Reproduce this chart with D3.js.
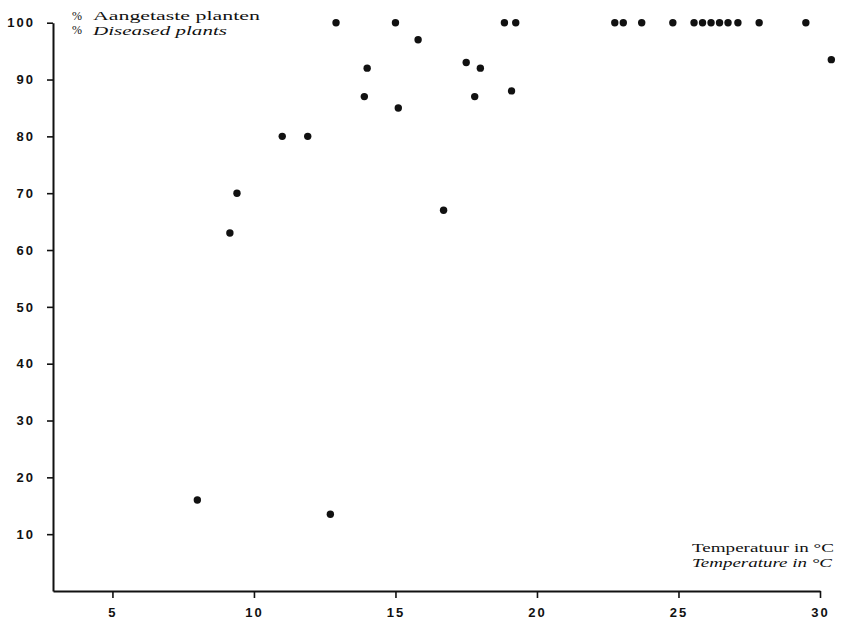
<!DOCTYPE html>
<html>
<head>
<meta charset="utf-8">
<style>
  body { margin: 0; background: #fff; }
  svg { display: block; }
  .tick text { font-family: "Liberation Sans", sans-serif; font-weight: bold; font-size: 13px; letter-spacing: 2px; fill: #111; }
  .lbl { font-family: "Liberation Serif", serif; font-size: 13.5px; fill: #111; }
</style>
</head>
<body>
<svg width="846" height="626"></svg>
<script src="https://d3js.org/d3.v7.min.js"></script>
<script>
// temperature (°C) and % diseased plants
var temps = [8.0, 9.15, 9.4, 11.0, 11.9, 12.7, 12.9, 13.9, 14.0, 15.0, 15.1, 15.8, 16.7,
             17.5, 17.8, 18.0, 18.85, 19.1, 19.25, 22.75, 23.05, 23.7, 24.8, 25.55, 25.85,
             26.15, 26.45, 26.75, 27.1, 27.85, 29.5, 30.4];
var diseased = [16, 63, 70, 80, 80, 13.5, 100, 87, 92, 100, 85, 97, 67,
                93, 87, 92, 100, 88, 100, 100, 100, 100, 100, 100, 100,
                100, 100, 100, 100, 100, 100, 93.5];
var xTicks = [5, 10, 15, 20, 25, 30];
var yTicks = [10, 20, 30, 40, 50, 60, 70, 80, 90, 100];

var svg = d3.select("svg");

var x = d3.scaleLinear().domain([2.9, 30]).range([53, 820]);
var y = d3.scaleLinear().domain([0, 100]).range([591, 22.7]);

// x axis
var gx = svg.append("g")
    .attr("transform", "translate(0," + y(0) + ")")
    .call(d3.axisBottom(x).tickValues(xTicks).tickSize(7).tickSizeOuter(0).tickPadding(10));

// y axis
var gy = svg.append("g")
    .attr("transform", "translate(" + x(2.9) + ",0)")
    .call(d3.axisLeft(y).tickValues(yTicks).tickSize(6).tickSizeOuter(0).tickPadding(12));

gx.select(".domain").attr("stroke", "#111").attr("stroke-width", 2);
gy.select(".domain").attr("stroke", "#111").attr("stroke-width", 2);
svg.selectAll(".tick line").attr("stroke", "#111").attr("stroke-width", 1.6);

// points
svg.append("g")
  .selectAll("circle")
  .data(d3.range(temps.length))
  .enter().append("circle")
    .attr("cx", function(i) { return x(temps[i]); })
    .attr("cy", function(i) { return y(diseased[i]); })
    .attr("r", 3.7)
    .attr("fill", "#111");

// wide serif labels: stretch horizontally to the printed width
function label(px, py, str, italic, width, anchorEnd) {
  var t = svg.append("text")
      .attr("class", "lbl")
      .style("font-style", italic ? "italic" : "normal")
      .text(str);
  var w = t.node().getComputedTextLength();
  var s = width / w;
  var x0 = anchorEnd ? px - width : px;
  t.attr("transform", "translate(" + x0 + "," + py + ") scale(" + s + ",1)");
}

function pct(px, py) {
  svg.append("text")
      .attr("x", px).attr("y", py)
      .attr("font-family", "Liberation Serif, serif")
      .attr("font-size", 12)
      .attr("fill", "#111")
      .text("%");
}

pct(72, 19.5);
label(93, 20, "Aangetaste planten", false, 167, false);
pct(72, 34);
label(93, 35, "Diseased plants", true, 134, false);

label(834, 552, "Temperatuur in °C", false, 142, true);
label(832, 567, "Temperature in °C", true, 140, true);
</script>
</body>
</html>
